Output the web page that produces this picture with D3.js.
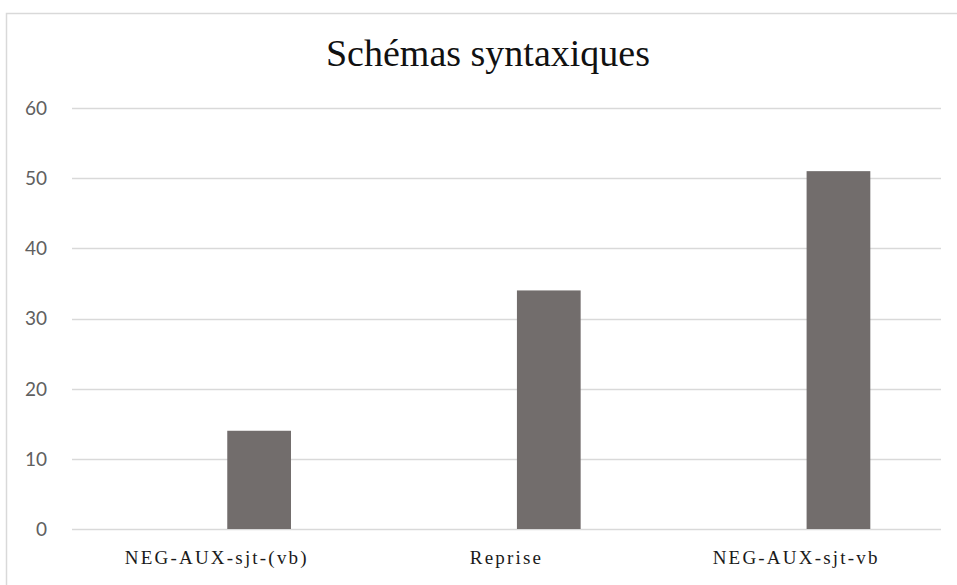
<!DOCTYPE html>
<html><head><meta charset="utf-8">
<script src="https://cdn.jsdelivr.net/npm/d3@7"></script>
<style>html,body{margin:0;padding:0;background:#fff;}</style>
</head><body>
<script>
const title = "Schémas syntaxiques";
const categories = ["NEG-AUX-sjt-(vb)", "Reprise", "NEG-AUX-sjt-vb"];
const values = [14, 34, 51];
const yTicks = [0, 10, 20, 30, 40, 50, 60];

const W = 957, H = 585;
const m = {left: 72, right: 16, top: 108, bottom: 56};
const svg = d3.select("body").append("svg").attr("width", W).attr("height", H);

// chart frame
svg.append("rect").attr("x", 6.5).attr("y", 13.5).attr("width", W + 10).attr("height", H + 10)
  .attr("fill", "#fff").attr("stroke", "#d9d9d9").attr("stroke-width", 1.5);

const x = d3.scaleBand().domain(categories).range([m.left, W - m.right]).padding(0);
const y = d3.scaleLinear().domain([0, 60]).range([H - m.bottom, m.top]);

// gridlines
svg.append("g").selectAll("line").data(yTicks).join("line")
  .attr("x1", m.left).attr("x2", W - m.right)
  .attr("y1", d => Math.round(y(d)) + 0.5).attr("y2", d => Math.round(y(d)) + 0.5)
  .attr("stroke", "#d9d9d9").attr("stroke-width", 1.5);

// y labels
svg.append("g").selectAll("text").data(yTicks).join("text")
  .attr("x", m.left - 25).attr("y", d => y(d)).attr("dy", "0.36em")
  .attr("text-anchor", "end").attr("font-family", "Lato, 'Open Sans', sans-serif")
  .attr("font-size", 19).attr("fill", "#606060").text(d => d);

// bars (second slot of a two-slot cluster)
const barStart = 0.536, barWidth = 0.22;
svg.append("g").selectAll("rect").data(values).join("rect")
  .attr("x", (d, i) => x(categories[i]) + x.bandwidth() * barStart)
  .attr("width", x.bandwidth() * barWidth)
  .attr("y", d => y(d)).attr("height", d => y(0) - y(d))
  .attr("fill", "#726d6c");

// x labels
svg.append("g").selectAll("text").data(categories).join("text")
  .attr("x", d => x(d) + x.bandwidth() / 2).attr("y", 564)
  .attr("text-anchor", "middle").attr("font-family", "'Liberation Serif', 'Times New Roman', serif")
  .attr("font-size", 19).attr("letter-spacing", 2.2).attr("fill", "#1a1a1a").text(d => d);

// title
svg.append("text").attr("x", 488).attr("y", 66).attr("text-anchor", "middle")
  .attr("font-family", "'Liberation Serif', 'Times New Roman', serif")
  .attr("font-size", 38).attr("fill", "#111").text(title);
</script>
</body></html>
